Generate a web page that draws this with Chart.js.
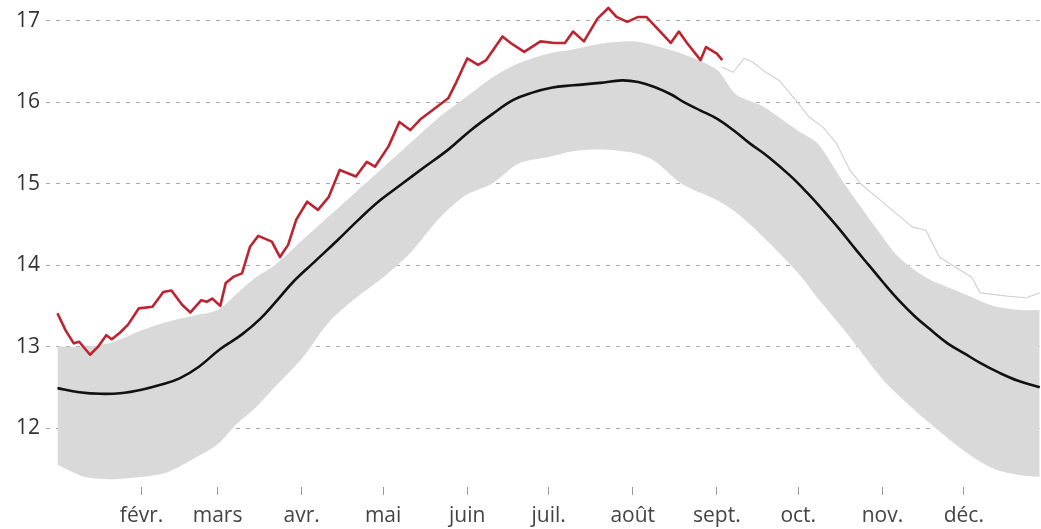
<!DOCTYPE html>
<html lang="fr">
<head>
<meta charset="utf-8">
<script src="https://cdn.jsdelivr.net/npm/chart.js@4/dist/chart.umd.min.js"></script>
<style>
  html, body { margin: 0; padding: 0; background: #ffffff; }
  canvas { display: block; }
</style>
</head>
<body>
<canvas id="c" width="1041" height="529"></canvas>
<script>
// ---- DATA (day of year, value) ----
const monthTickDays = [31, 59, 90, 120, 151, 181, 212, 243, 273, 304, 334];
const monthLabels = ["févr.", "mars", "avr.", "mai", "juin", "juil.", "août", "sept.", "oct.", "nov.", "déc."];
const yTickValues = [12, 13, 14, 15, 16, 17];

// envelope of past years (grey spaghetti)
const envDays  = [0, 10, 20, 31, 40, 50, 59, 66, 73, 80, 90, 100, 110, 120, 130, 140, 150, 160, 170, 181, 190, 200, 212, 220, 230, 243, 250, 260, 273, 280, 290, 304, 310, 320, 334, 345, 355, 362];
const envUpper = [13.0, 13.0, 13.05, 13.2, 13.3, 13.38, 13.45, 13.65, 13.85, 14.0, 14.3, 14.6, 14.9, 15.2, 15.5, 15.8, 16.05, 16.3, 16.48, 16.6, 16.65, 16.72, 16.75, 16.7, 16.6, 16.4, 16.1, 15.95, 15.65, 15.5, 15.0, 14.35, 14.1, 13.85, 13.65, 13.5, 13.45, 13.45];
const envLower = [11.55, 11.4, 11.37, 11.4, 11.45, 11.62, 11.8, 12.05, 12.25, 12.5, 12.85, 13.3, 13.6, 13.85, 14.15, 14.55, 14.85, 15.0, 15.25, 15.33, 15.4, 15.42, 15.38, 15.28, 15.0, 14.8, 14.65, 14.35, 13.9, 13.6, 13.2, 12.6, 12.4, 12.1, 11.72, 11.5, 11.42, 11.4];

// one warm past year standing out in autumn
const outlierDays   = [245, 249, 253, 256, 261, 266, 272, 277, 282, 287, 292, 296, 305, 315, 320, 325, 337, 340, 350, 357, 362];
const outlierValues = [16.43, 16.37, 16.54, 16.5, 16.37, 16.27, 16.03, 15.82, 15.7, 15.5, 15.17, 15.0, 14.75, 14.47, 14.43, 14.1, 13.85, 13.66, 13.62, 13.6, 13.66];

// mean
const meanDays   = [0, 8, 16, 24, 31, 38, 45, 52, 60, 68, 75, 81, 87, 95, 103, 111, 119, 127, 135, 144, 152, 160, 168, 175, 182, 190, 200, 208, 214, 220, 226, 231, 237, 243, 249, 255, 262, 270, 276, 282, 288, 294, 299, 304, 310, 316, 322, 328, 334, 340, 347, 354, 362];
const meanValues = [12.49, 12.44, 12.42, 12.43, 12.47, 12.53, 12.61, 12.75, 12.97, 13.15, 13.35, 13.57, 13.8, 14.05, 14.3, 14.56, 14.8, 15.0, 15.2, 15.42, 15.65, 15.85, 16.03, 16.12, 16.18, 16.21, 16.24, 16.27, 16.25, 16.19, 16.1, 16.0, 15.9, 15.8, 15.66, 15.5, 15.33, 15.1, 14.9, 14.68, 14.45, 14.2, 14.0, 13.8, 13.57, 13.37, 13.2, 13.04, 12.92, 12.8, 12.68, 12.58, 12.5];

// current year
const currentDays   = [0, 3, 6, 8, 10, 12, 15, 18, 20, 23, 26, 30, 35, 39, 42, 46, 49, 53, 55, 57, 60, 62, 65, 68, 71, 74, 79, 82, 85, 88, 92, 96, 100, 104, 110, 114, 117, 122, 126, 130, 134, 140, 144, 147, 151, 155, 158, 164, 167, 172, 178, 183, 187, 190, 194, 199, 203, 206, 210, 214, 217, 221, 226, 229, 232, 237, 239, 243, 245];
const currentValues = [13.41, 13.2, 13.04, 13.06, 12.98, 12.9, 13.0, 13.14, 13.09, 13.17, 13.27, 13.47, 13.49, 13.67, 13.69, 13.51, 13.42, 13.57, 13.55, 13.59, 13.5, 13.78, 13.86, 13.9, 14.23, 14.36, 14.29, 14.1, 14.25, 14.56, 14.78, 14.68, 14.84, 15.17, 15.09, 15.27, 15.21, 15.46, 15.76, 15.66, 15.8, 15.95, 16.05, 16.25, 16.54, 16.46, 16.52, 16.81, 16.73, 16.62, 16.75, 16.73, 16.73, 16.87, 16.75, 17.03, 17.16, 17.05, 16.99, 17.05, 17.05, 16.91, 16.73, 16.87, 16.73, 16.52, 16.68, 16.6, 16.52];

const pts = (xs, ys) => xs.map((d, i) => ({ x: d, y: ys[i] }));

const FONT = "'Open Sans', 'DejaVu Sans', sans-serif";
const GRID = '#a8a8a8';

const config = {
  type: 'line',
  data: {
    datasets: [
      { data: pts(envDays, envUpper), borderWidth: 0, pointRadius: 0, fill: '+1', backgroundColor: '#d9d9d9', tension: 0.3, order: 5, clip: false },
      { data: pts(envDays, envLower), borderWidth: 0, pointRadius: 0, fill: false, tension: 0.3, order: 5, clip: false },
      { data: pts(outlierDays, outlierValues), borderColor: '#d2d2d2', borderWidth: 1.2, pointRadius: 0, fill: false, tension: 0, order: 4, clip: false },
      { data: pts(meanDays, meanValues), borderColor: '#111111', borderWidth: 2.6, pointRadius: 0, fill: false, tension: 0.4, order: 2, clip: false },
      { data: pts(currentDays, currentValues), borderColor: '#bb2430', borderWidth: 2.6, pointRadius: 0, fill: false, tension: 0, order: 1, borderJoinStyle: 'round', clip: false }
    ]
  },
  options: {
    responsive: false,
    animation: false,
    events: [],
    layout: { padding: 0 },
    plugins: { legend: { display: false }, tooltip: { enabled: false } },
    scales: {
      x: {
        type: 'linear',
        min: 0, max: 362,
        afterFit: s => { s.height = 42; },
        afterBuildTicks: s => { s.ticks = monthTickDays.map(v => ({ value: v })); },
        ticks: {
          autoSkip: false, maxRotation: 0, padding: 8,
          color: '#444', font: { family: FONT, size: 21 },
          callback: (v) => monthLabels[monthTickDays.indexOf(v)]
        },
        grid: { drawOnChartArea: false, drawTicks: true, tickLength: 8, tickColor: '#999', tickWidth: 1 },
        border: { display: false }
      },
      y: {
        type: 'linear',
        min: 11.3, max: 17.25,
        afterFit: s => { s.width = 56; },
        afterBuildTicks: s => { s.ticks = yTickValues.map(v => ({ value: v })); },
        ticks: { padding: 6, color: '#333', font: { family: FONT, size: 21 } },
        grid: { color: GRID, lineWidth: 1, drawTicks: true, tickLength: 10, tickColor: GRID, tickBorderDash: [4, 6] },
        border: { display: false, dash: [4, 6] }
      }
    }
  }
};

const chart = new Chart(document.getElementById('c'), config);

// calibrate so that ticks land where the reference puts them
const ys = chart.scales.y, xs = chart.scales.x;
const pxPerUnit = (428 - 21) / 5;
chart.options.scales.y.min = 12 - (ys.bottom - 428) / pxPerUnit;
chart.options.scales.y.max = 17 + (21 - ys.top) / pxPerUnit;
const pxPerDay = (965 - 141.7) / (334 - 31);
chart.options.scales.x.min = 31 - (141.7 - xs.left) / pxPerDay;
chart.options.scales.x.max = 31 + (xs.right - 141.7) / pxPerDay;
chart.update('none');
</script>
</body>
</html>
